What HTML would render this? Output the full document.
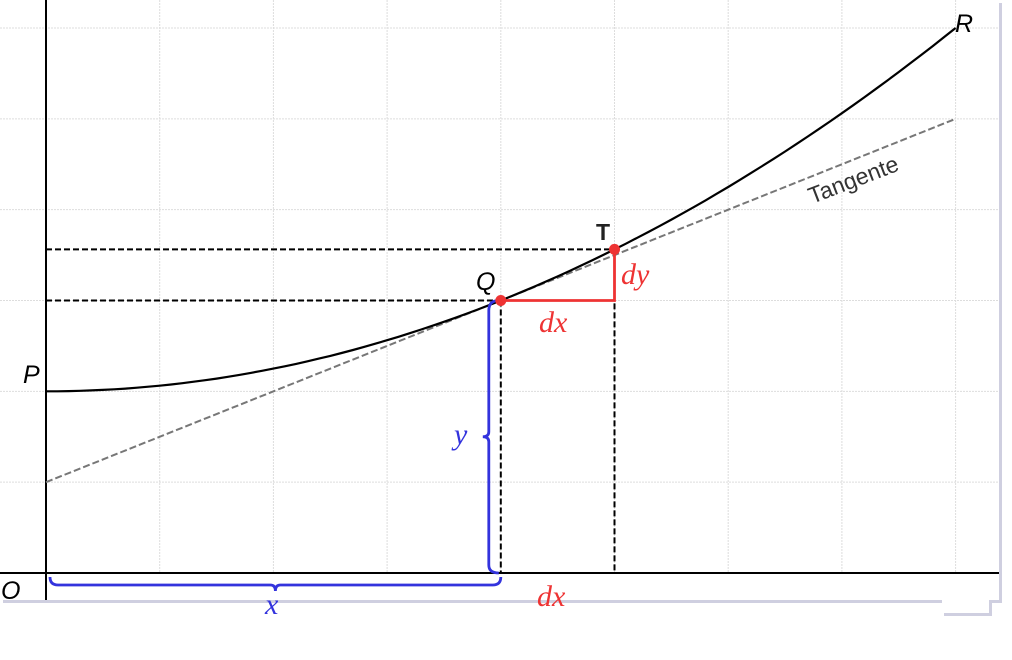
<!DOCTYPE html>
<html><head><meta charset="utf-8"><style>
html,body{margin:0;padding:0;background:#fff;width:1012px;height:660px;overflow:hidden}
svg{display:block}
text{font-family:"Liberation Sans",sans-serif}
.m{font-family:"Liberation Serif",serif;font-style:italic}
</style></head><body>
<svg id="chart" width="1012" height="660" viewBox="0 0 1012 660">
<g>
<rect x="3" y="3" width="999" height="600" fill="#cfcfe0"/>
<rect x="944" y="603" width="48" height="13" fill="#cfcfe0"/>
<rect x="0" y="0" width="999" height="600" fill="#fff"/>
<rect x="942" y="598" width="47" height="15" fill="#fff"/>
</g>
<g id="grid"></g>
<g id="plot"></g>
</svg>
<script>
const xTicks=[0,1,2,3,4,5,6,7,8];
const yTicks=[0,1,2,3,4,5,6];
const xQ=4, xT=5;
const curveA=2, curveK=1/16; // y = a + k x^2
const tanIntercept=1, tanSlope=0.5;
const X=v=>46+v*113.7, Y=v=>573-v*90.83;
const f=x=>curveA+curveK*x*x;
const NS='http://www.w3.org/2000/svg';
function el(tag,attrs,parent,txt){const e=document.createElementNS(NS,tag);for(const k in attrs)e.setAttribute(k,attrs[k]);if(txt!==undefined)e.textContent=txt;parent.appendChild(e);return e;}
const grid=document.getElementById('grid'), plot=document.getElementById('plot');
xTicks.forEach(t=>{const l=el('line',{x1:X(t),x2:X(t),y1:0,y2:573,stroke:'#ddd','stroke-width':1,'stroke-dasharray':'2 1'},grid);

});
yTicks.forEach(t=>{const l=el('line',{x1:0,x2:999,y1:Y(t),y2:Y(t),stroke:'#ddd','stroke-width':1,'stroke-dasharray':'2 1'},grid);

});
let a=el('line',{x1:0,x2:999,y1:Y(0),y2:Y(0),stroke:'#000','stroke-width':2},plot);


a=el('line',{x1:X(0),x2:X(0),y1:0,y2:600,stroke:'#000','stroke-width':2},plot);


let tl=el('line',{x1:X(0),y1:Y(tanIntercept),x2:X(8),y2:Y(tanIntercept+tanSlope*8),stroke:'#777','stroke-width':2,'stroke-dasharray':'7 3'},plot);


const yQ=f(xQ), yT=f(xT);
[[X(0),Y(yQ),X(xQ),Y(yQ)],[X(0),Y(yT),X(xT),Y(yT)],[X(xQ),Y(yQ),X(xQ),Y(0)],[X(xT),Y(yT),X(xT),Y(0)]].forEach(c=>{
const g=el('line',{x1:c[0],y1:c[1],x2:c[2],y2:c[3],stroke:'#000','stroke-width':2,'stroke-dasharray':'6 3'},plot);

});
let d='';for(let i=0;i<=80;i++){const x=i/10;d+=(i?'L':'M')+X(x).toFixed(1)+' '+Y(f(x)).toFixed(1);}
const cv=el('path',{d:d,fill:'none',stroke:'#000','stroke-width':2.2},plot);


const tri=el('path',{d:`M${X(xQ)} ${Y(yQ)}H${X(xT)}V${Y(yT)}`,fill:'none',stroke:'#e33','stroke-width':2.8},plot);


const bx=X(xQ)-12, by1=Y(yQ), by2=Y(0), bm=(by1+by2)/2;
const yb=el('path',{d:`M${bx+10} ${by1}Q${bx} ${by1} ${bx} ${by1+10}V${bm-5}Q${bx} ${bm} ${bx-6} ${bm}Q${bx} ${bm} ${bx} ${bm+5}V${by2-8}Q${bx} ${by2} ${bx+10} ${by2}`,fill:'none',stroke:'#33d','stroke-width':2.8},plot);


const hy=585, hx1=X(0)+4, hx2=X(xQ), hm=(hx1+hx2)/2;
const xb=el('path',{d:`M${hx1} ${hy-8}Q${hx1} ${hy} ${hx1+8} ${hy}H${hm-5}Q${hm} ${hy} ${hm} ${hy+6}Q${hm} ${hy} ${hm+5} ${hy}H${hx2-8}Q${hx2} ${hy} ${hx2} ${hy-8}`,fill:'none',stroke:'#33d','stroke-width':2.8},plot);


[[xQ,yQ,'point-q'],[xT,yT,'point-t']].forEach(p=>{const c=el('circle',{cx:X(p[0]),cy:Y(p[1]),r:5.5,fill:'#e33'},plot);

});
function lab(x,y,t,name,opts){const e=el('text',Object.assign({x:x,y:y,'font-size':25},opts||{}),plot,t);

return e;}
lab(23,383,'P','label-p',{'font-style':'italic'});
lab(1,599,'O','label-o',{'font-style':'italic'});
lab(955,32,'R','label-r',{'font-style':'italic'});
lab(476,290,'Q','label-q',{'font-style':'italic'});
lab(596,240,'T','label-t',{'font-weight':'bold','font-size':23,fill:'#222'});
lab(621,284,'dy','label-dy',{class:'m',fill:'#e33','font-size':30});
lab(539,332,'dx','label-dx',{class:'m',fill:'#e33','font-size':30});
lab(537,606,'dx','label-dx-axis',{class:'m',fill:'#e33','font-size':30});
lab(454,444,'y','label-y',{class:'m',fill:'#33d','font-size':30});
lab(265,614,'x','label-x',{class:'m',fill:'#33d','font-size':30});
lab(812,204,'Tangente','label-tangente',{'font-size':23,fill:'#333',transform:'rotate(-21 812 204)'});
</script>
</body></html>
